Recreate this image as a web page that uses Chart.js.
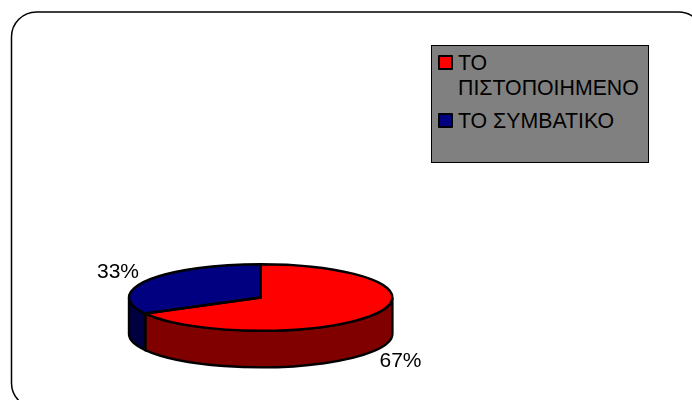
<!DOCTYPE html>
<html>
<head>
<meta charset="utf-8">
<script src="https://cdn.jsdelivr.net/npm/chart.js@4"></script>
<style>
  html, body { margin: 0; padding: 0; background: #fff; }
  body { position: relative; width: 692px; height: 400px; overflow: hidden; font-family: "Liberation Sans", Arial, sans-serif; color: #000; }
  #frame { position: absolute; left: 0; top: 0; }
  canvas { position: absolute; left: 0; top: 0; }
  #legend { position: absolute; left: 431px; top: 45px; width: 216px; height: 116px; background: #808080; border: 1px solid #000; font-size: 21.3px; line-height: 25px; }
  .item { position: absolute; left: 26px; width: 190px; }
  .swatch { position: absolute; left: -20px; top: 4px; width: 11px; height: 11px; border: 2px solid #000; border-radius: 1px; }
</style>
</head>
<body>
<svg id="frame" width="692" height="400"><rect x="11.5" y="12" width="692" height="396" rx="25" ry="25" fill="none" stroke="#000" stroke-width="1.5"/></svg>
<canvas id="pie" width="692" height="400"></canvas>
<div id="legend"></div>
<script>
const labels = ['ΤΟ ΠΙΣΤΟΠΟΙΗΜΕΝΟ', 'ΤΟ ΣΥΜΒΑΤΙΚΟ'];
const values = [67, 33];
const topColors = ['#ff0000', '#000080'];
const wallColors = ['#800000', '#000040'];

const TILT = 0.253;
const DEPTH = 36.5;
const CENTER_Y = 297.5;
const labelSpots = [[400.5, 361], [118, 272]];

// legend is plain html, the first entry wraps like the original
const legendTops = [5, 63];
labels.forEach((text, i) => {
  const item = document.createElement('div');
  item.className = 'item';
  item.style.top = legendTops[i] + 'px';
  item.innerHTML = `<span class="swatch" style="background:${topColors[i]}"></span>${text}`;
  document.getElementById('legend').appendChild(item);
});

// squashes the pie into an ellipse and adds the side wall
const pie3d = {
  id: 'pie3d',
  beforeDatasetsDraw(chart) {
    const { ctx } = chart;
    chart.getDatasetMeta(0).data.forEach((arc, i) => {
      const rx = arc.outerRadius, ry = rx * TILT;
      const a = Math.max(arc.startAngle, 0), b = Math.min(arc.endAngle, Math.PI);
      if (a >= b) return;
      ctx.beginPath();
      ctx.ellipse(arc.x, CENTER_Y, rx, ry, 0, a, b);
      ctx.ellipse(arc.x, CENTER_Y + DEPTH, rx, ry, 0, b, a, true);
      ctx.closePath();
      ctx.fillStyle = wallColors[i];
      ctx.fill();
      ctx.strokeStyle = '#000';
      ctx.lineWidth = 2.4;
      ctx.stroke();
    });
    const first = chart.getDatasetMeta(0).data[0];
    ctx.save();
    ctx.translate(0, CENTER_Y);
    ctx.scale(1, TILT);
    ctx.translate(0, -first.y);
  },
  afterDatasetsDraw(chart) {
    const { ctx } = chart;
    ctx.restore();
    chart.getDatasetMeta(0).data.forEach((arc, i) => {
      const rx = arc.outerRadius, ry = rx * TILT;
      ctx.beginPath();
      ctx.moveTo(arc.x, CENTER_Y);
      ctx.ellipse(arc.x, CENTER_Y, rx, ry, 0, arc.startAngle, arc.endAngle);
      ctx.closePath();
      ctx.strokeStyle = '#000';
      ctx.lineWidth = 2.4;
      ctx.lineJoin = 'round';
      ctx.stroke();

      ctx.fillStyle = '#000';
      ctx.font = '21px "Liberation Sans", Arial, sans-serif';
      ctx.textAlign = 'center';
      ctx.textBaseline = 'middle';
      ctx.fillText(values[i] + '%', labelSpots[i][0], labelSpots[i][1]);
    });
  }
};

new Chart(document.getElementById('pie'), {
  type: 'pie',
  data: {
    labels,
    datasets: [{ data: values, backgroundColor: topColors, borderWidth: 0, hoverOffset: 0 }]
  },
  options: {
    responsive: false,
    animation: false,
    events: [],
    layout: { padding: { left: 129, right: 299.6, top: 0, bottom: 0 } },
    plugins: { legend: { display: false }, tooltip: { enabled: false } }
  },
  plugins: [pie3d]
});
</script>
</body>
</html>
